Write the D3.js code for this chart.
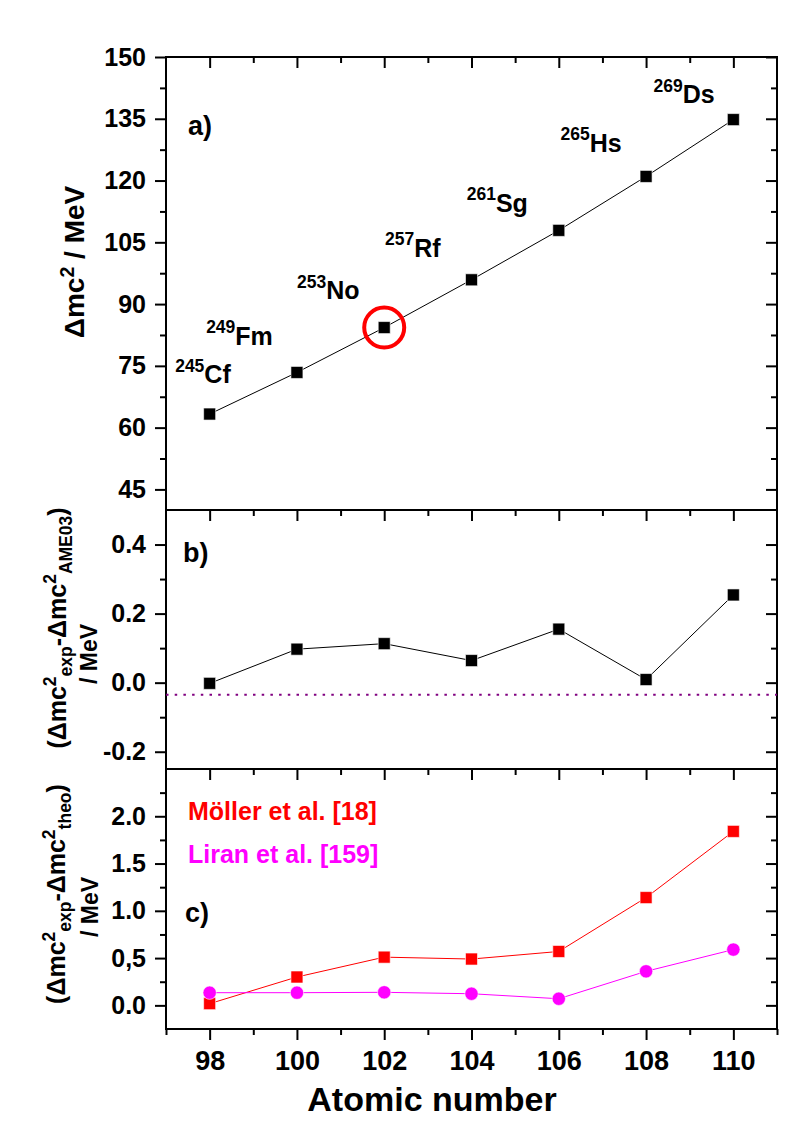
<!DOCTYPE html>
<html><head><meta charset="utf-8">
<script src="https://cdn.jsdelivr.net/npm/d3@7"></script>
<style>
body{margin:0;background:#fff}
text{font-family:"Liberation Sans",Arial,sans-serif;font-weight:bold;fill:#000}
</style></head><body>
<svg id="chart" width="792" height="1132"></svg>
<script>
// ---------------- data ----------------
const atomicNumber = [98, 100, 102, 104, 106, 108, 110];
const massNumbers  = ["245", "249", "253", "257", "261", "265", "269"];
const elements     = ["Cf", "Fm", "No", "Rf", "Sg", "Hs", "Ds"];
const massExcess   = [63.3, 73.4, 84.3, 95.9, 107.9, 121.0, 134.8];   // panel a, MeV
const diffAME03    = [-0.002, 0.097, 0.113, 0.064, 0.155, 0.009, 0.254]; // panel b
const ame03RefLine = -0.035;
const diffMoller   = [0.018, 0.30, 0.51, 0.49, 0.57, 1.14, 1.84];   // panel c red
const diffLiran    = [0.134, 0.134, 0.138, 0.123, 0.07, 0.36, 0.59]; // panel c magenta
const highlightZ   = 102;
// annotation anchors (data units, panel a)
const annZ = [97.21, 97.92, 100.0, 102.02, 103.89, 106.04, 108.17];
const annV = [70.8, 80.1, 91.2, 101.5, 112.4, 127.0, 138.8];

const xTicks = [98, 100, 102, 104, 106, 108, 110];
const xMinor = [97, 99, 101, 103, 105, 107, 109, 111];
const aTicks = [45, 60, 75, 90, 105, 120, 135, 150];
const aMinor = [52.5, 67.5, 82.5, 97.5, 112.5, 127.5, 142.5];
const bTicks = [-0.2, 0, 0.2, 0.4];
const bTickLabels = ["-0.2", "0.0", "0.2", "0.4"];
const bMinor = [-0.1, 0.1, 0.3];
const cTicks = [0, 0.5, 1.0, 1.5, 2.0];
const cTickLabels = ["0.0", "0,5", "1.0", "1.5", "2.0"];
const cMinor = [0.25, 0.75, 1.25, 1.75, 2.25];

// ---------------- layout ----------------
const L = 166, R = 777;
const aTop = 57, aBot = 510, bTop = 510, bBot = 769, cTop = 769, cBot = 1029;

const svg = d3.select("#chart");
const x = d3.scaleLinear().domain([97, 111]).range([L, R]);
const ya = d3.scaleLinear().domain([40, 150]).range([aBot, aTop]);
const yb = d3.scaleLinear().domain([-0.25, 0.5]).range([bBot, bTop]);
const yc = d3.scaleLinear().domain([-0.25, 2.5]).range([cBot, cTop]);

function styleAxis(g, fs) {
  g.select(".domain").remove();
  g.selectAll(".tick line").attr("stroke", "#000").attr("stroke-width", 2);
  g.selectAll(".tick text").style("font-size", fs + "px").attr("fill", "#000");
}

function yAxes(y, ticks, labels, minor) {
  const gL = svg.append("g").attr("transform", `translate(${L},0)`)
    .call(d3.axisLeft(y).tickValues(ticks).tickSize(11).tickPadding(9)
      .tickFormat((d, i) => labels[i]));
  styleAxis(gL, 25);
  const gLm = svg.append("g").attr("transform", `translate(${L},0)`)
    .call(d3.axisLeft(y).tickValues(minor).tickSize(6).tickFormat(""));
  styleAxis(gLm, 25);
  const gR = svg.append("g").attr("transform", `translate(${R},0)`)
    .call(d3.axisLeft(y).tickValues(ticks).tickSize(11).tickFormat(""));
  styleAxis(gR, 25);
  const gRm = svg.append("g").attr("transform", `translate(${R},0)`)
    .call(d3.axisLeft(y).tickValues(minor).tickSize(6).tickFormat(""));
  styleAxis(gRm, 25);
}

function topTicks(yPos) {
  const g1 = svg.append("g").attr("transform", `translate(0,${yPos})`)
    .call(d3.axisBottom(x).tickValues(xTicks).tickSize(11).tickFormat(""));
  styleAxis(g1, 25);
  const g2 = svg.append("g").attr("transform", `translate(0,${yPos})`)
    .call(d3.axisBottom(x).tickValues(xMinor.filter(v => v > 97 && v < 111)).tickSize(6).tickFormat(""));
  styleAxis(g2, 25);
}

yAxes(ya, aTicks, aTicks.map(String), aMinor);
yAxes(yb, bTicks, bTickLabels, bMinor);
yAxes(yc, cTicks, cTickLabels, cMinor);
topTicks(aTop); topTicks(bTop); topTicks(cTop);

// bottom x axis (outward)
const gx = svg.append("g").attr("transform", `translate(0,${cBot})`)
  .call(d3.axisBottom(x).tickValues(xTicks).tickSize(11).tickPadding(11).tickFormat(d3.format("d")));
styleAxis(gx, 27);
const gxm = svg.append("g").attr("transform", `translate(0,${cBot})`)
  .call(d3.axisBottom(x).tickValues(xMinor).tickSize(6).tickFormat(""));
styleAxis(gxm, 27);

// frames
svg.append("rect").attr("x", L).attr("y", aTop).attr("width", R - L).attr("height", cBot - aTop)
  .attr("fill", "none").attr("stroke", "#000").attr("stroke-width", 2);
[bTop, cTop].forEach(yy => svg.append("line").attr("x1", L).attr("x2", R).attr("y1", yy).attr("y2", yy)
  .attr("stroke", "#000").attr("stroke-width", 2));

// ---------------- panel a ----------------
const lineGen = (y, vals) => d3.line().x((d, i) => x(atomicNumber[i])).y(d => y(d))(vals);
svg.append("path").attr("d", lineGen(ya, massExcess)).attr("fill", "none").attr("stroke", "#000").attr("stroke-width", 1);
const sq = d3.symbol(d3.symbolSquare, 144)();
svg.append("g").selectAll("path").data(massExcess).join("path")
  .attr("d", sq).attr("transform", (d, i) => `translate(${x(atomicNumber[i])},${ya(d)})`)
  .attr("fill", "#000").attr("stroke", "#fff").attr("stroke-width", 0.6);
const hiIdx = atomicNumber.indexOf(highlightZ);
svg.append("circle").attr("cx", x(highlightZ)).attr("cy", ya(massExcess[hiIdx])).attr("r", 20)
  .attr("fill", "none").attr("stroke", "#ff0000").attr("stroke-width", 4);

elements.forEach((el, i) => {
  const t = svg.append("text").attr("x", x(annZ[i])).attr("y", ya(annV[i])).style("font-size", "25px");
  t.append("tspan").text(massNumbers[i]).style("font-size", "17.5px").attr("dy", -11.5);
  t.append("tspan").text(el).attr("dy", 11.5);
});

svg.append("text").attr("x", 188).attr("y", 135).style("font-size", "27px").text("a)");

// ---------------- panel b ----------------
svg.append("line").attr("x1", L).attr("x2", R).attr("y1", yb(ame03RefLine)).attr("y2", yb(ame03RefLine))
  .attr("stroke", "#800080").attr("stroke-width", 2).attr("stroke-dasharray", "2.5,6.2");
svg.append("path").attr("d", lineGen(yb, diffAME03)).attr("fill", "none").attr("stroke", "#000").attr("stroke-width", 1);
svg.append("g").selectAll("path").data(diffAME03).join("path")
  .attr("d", sq).attr("transform", (d, i) => `translate(${x(atomicNumber[i])},${yb(d)})`)
  .attr("fill", "#000").attr("stroke", "#fff").attr("stroke-width", 0.6);
svg.append("text").attr("x", 183).attr("y", 562).style("font-size", "27px").text("b)");

// ---------------- panel c ----------------
svg.append("path").attr("d", lineGen(yc, diffMoller)).attr("fill", "none").attr("stroke", "#ff0000").attr("stroke-width", 1);
svg.append("path").attr("d", lineGen(yc, diffLiran)).attr("fill", "none").attr("stroke", "#ff00ff").attr("stroke-width", 1);
svg.append("g").selectAll("path").data(diffMoller).join("path")
  .attr("d", sq).attr("transform", (d, i) => `translate(${x(atomicNumber[i])},${yc(d)})`)
  .attr("fill", "#ff0000").attr("stroke", "#fff").attr("stroke-width", 0.6);
const circ = d3.symbol(d3.symbolCircle, 140)();
svg.append("g").selectAll("path").data(diffLiran).join("path")
  .attr("d", circ).attr("transform", (d, i) => `translate(${x(atomicNumber[i])},${yc(d)})`)
  .attr("fill", "#ff00ff").attr("stroke", "#fff").attr("stroke-width", 0.6);
svg.append("text").attr("x", 188).attr("y", 820).style("font-size", "25px").style("fill", "#ff0000").text("Möller et al. [18]");
svg.append("text").attr("x", 188).attr("y", 863).style("font-size", "25px").style("fill", "#ff00ff").text("Liran et al. [159]");
svg.append("text").attr("x", 185).attr("y", 922).style("font-size", "27px").text("c)");

// ---------------- axis titles ----------------
svg.append("text").attr("x", 432).attr("y", 1111).attr("text-anchor", "middle").style("font-size", "34px").text("Atomic number");

function rotLabel(cx, cy, fs, parts) {
  const t = svg.append("text").attr("transform", `translate(${cx},${cy}) rotate(-90)`)
    .attr("text-anchor", "middle").style("font-size", fs + "px");
  let cur = 0;
  parts.forEach(p => {
    const target = p.sup ? -10 : p.sub ? 6 : 0;
    t.append("tspan").text(p.t).attr("dy", target - cur).style("font-size", (p.sup || p.sub) ? (fs * 0.7) + "px" : fs + "px");
    cur = target;
  });
  return t;
}
rotLabel(84, 262, 28, [{t: "Δmc"}, {t: "2", sup: true}, {t: " / MeV"}]);
rotLabel(66, 628, 25, [{t: "(Δmc"}, {t: "2", sup: true}, {t: "exp", sub: true}, {t: "-Δmc"}, {t: "2", sup: true}, {t: "AME03", sub: true}, {t: ")"}]);
rotLabel(97, 654, 23, [{t: "/ MeV"}]);
rotLabel(65, 894, 25, [{t: "(Δmc"}, {t: "2", sup: true}, {t: "exp", sub: true}, {t: "-Δmc"}, {t: "2", sup: true}, {t: "theo", sub: true}, {t: ")"}]);
rotLabel(98, 907, 23, [{t: "/ MeV"}]);
</script>
</body></html>
